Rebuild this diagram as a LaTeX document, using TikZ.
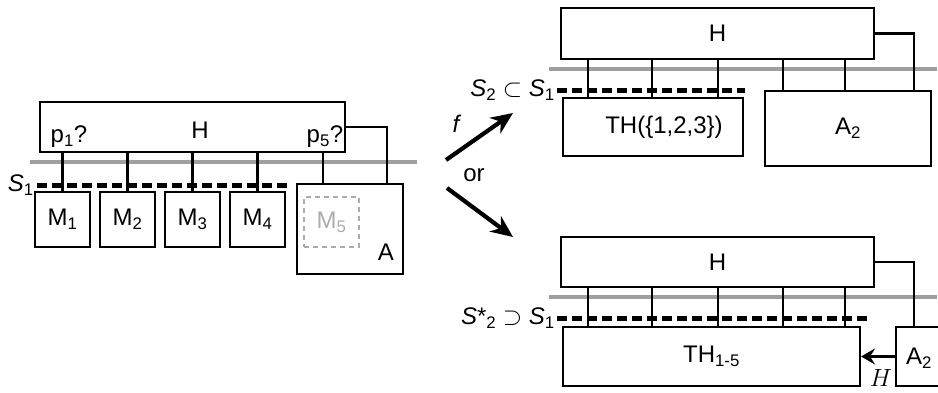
\documentclass[tikz,border=0pt]{standalone}
\usepackage{fontspec}
\setmainfont{Liberation Sans}
\usetikzlibrary{arrows.meta,positioning}

\begin{document}
\begin{tikzpicture}[x=1pt, y=-1pt,
  every node/.style={font=\fontsize{24}{28}\selectfont},
  box/.style={draw, line width=2.1pt, inner sep=0pt},
  ghostbox/.style={draw=gray!65, dash pattern=on 5pt off 4pt, line width=1.6pt, inner sep=0pt, text=gray!65},
  conn/.style={line width=2.1pt},
  busline/.style={gray!75, line width=3.4pt},
  cutline/.style={line width=5pt, dash pattern=on 10pt off 5pt},
  choice/.style={line width=4.2pt, -{Stealth[length=22pt, width=19pt, inset=7pt]}},
  hlink/.style={line width=2.1pt, -{Stealth[length=14pt, width=16pt, inset=5pt]}},
  lbl/.style={inner sep=0pt}]

\useasboundingbox (0,0) rectangle (938,392);
\clip (0,0) rectangle (938,392);

% left: H above M1..M4 and A
\node[box, minimum width=305, minimum height=50] (H) at (192.5,127) {};
\node[lbl] (Hlbl) at (200,130) {H};
\node[lbl] (p1) at (69,137) {p\textsubscript{1}?};
\node[lbl] (p5) at (325,137) {p\textsubscript{5}?};

\foreach \i in {1,...,4}
  \node[box, minimum size=55] (M\i) at ({62.5+65*(\i-1)},219.5) {M\textsubscript{\i}};

\node[box, minimum width=106, minimum height=90] (A) at (350,229) {};
\node[lbl] (Albl) at (386,252) {A};
\node[ghostbox, minimum width=55, minimum height=50] (M5) at (331.5,222) {M\textsubscript{5}};
\coordinate (a1) at ([xshift=27pt]A.north west);
\coordinate (a2) at ([xshift=-17pt]A.north east);

\draw[busline] (30,162) -- (417,162);
\draw[cutline] (37,185) -- (287,185);
\node[lbl, anchor=east] (S1) at (34,185) {\textit{S}\textsubscript{1}};

\foreach \i in {1,...,4} {\draw[conn] (H.south -| M\i) -- (M\i.north);}
\draw[conn] (H.south -| a1) -- (a1);
\draw[conn] (H.east) -| (a2);

% the two outcomes
\draw[choice] (446,160) -- (513,113);
\draw[choice] (447,188) -- (513,237);
\node[lbl] (flbl) at (457,124) {\textit{f}};
\node[lbl] (orlbl) at (474,175) {or};

% top right: S2 inside S1
\node[box, minimum width=313, minimum height=51] (tH) at (717.5,33.5) {H};
\node[box, minimum width=180, minimum height=58] (tTH) at (653,127) {};
\node[lbl] (tTHlbl) at (664,127) {TH(\{1,2,3\})};
\node[box, minimum width=166, minimum height=75] (tA) at (848,128.5) {A\textsubscript{2}};

\draw[busline] (549,69) -- (937,69);
\draw[cutline] (557,90) -- (745,90);
\node[lbl, anchor=east] (S2) at (555,90) {\textit{S}\textsubscript{2} $\subset$ \textit{S}\textsubscript{1}};

\foreach \x in {588,652,718} {\draw[conn] (tH.south -| \x,0) -- (tTH.north -| \x,0);}
\foreach \x in {783,845} {\draw[conn] (tH.south -| \x,0) -- (tA.north -| \x,0);}
\draw[conn] (tH.east) -| (tA.north -| 914,0);

% bottom right: S2* contains S1
\node[box, minimum width=313, minimum height=50] (bH) at (717.5,262) {H};
\node[box, minimum width=297, minimum height=59] (bTH) at (711.5,356.5) {TH\textsubscript{1-5}};
\node[box, minimum width=60, minimum height=59] (bA) at (926,356.5) {};
\node[lbl] (bAlbl) at (919,358) {A\textsubscript{2}};

\draw[busline] (549,297) -- (937,297);
\draw[cutline] (557,318) -- (868,318);
\node[lbl, anchor=east] (S2star) at (555,318) {\textit{S}*\textsubscript{2} $\supset$ \textit{S}\textsubscript{1}};

\foreach \x in {588,652,718,783,845} {\draw[conn] (bH.south -| \x,0) -- (bTH.north -| \x,0);}
\draw[conn] (bH.east) -| (bA.north -| 914,0);
\draw[hlink] (bA) -- (bTH);
\node[lbl] (Hmap) at (881,378) {$H$};

\end{tikzpicture}
\end{document}
